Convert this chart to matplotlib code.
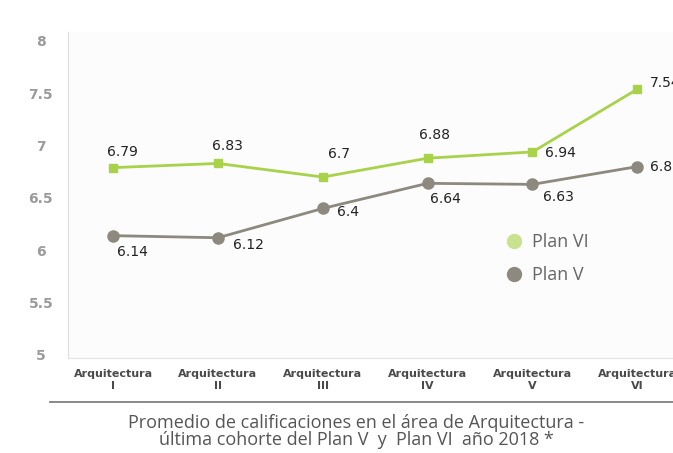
import matplotlib
matplotlib.use("Agg")
import matplotlib.pyplot as plt
from matplotlib.lines import Line2D

categorias = ["Arquitectura\nI", "Arquitectura\nII", "Arquitectura\nIII",
              "Arquitectura\nIV", "Arquitectura\nV", "Arquitectura\nVI"]
plan_vi = [6.79, 6.83, 6.7, 6.88, 6.94, 7.54]
plan_v = [6.14, 6.12, 6.4, 6.64, 6.63, 6.8]
y_ticks = [5, 5.5, 6, 6.5, 7, 7.5, 8]
y_tick_labels = ["5", "5.5", "6", "6.5", "7", "7.5", "8"]

verde = "#a8d24a"
gris = "#8d897e"

plt.rcParams['font.family'] = ['DejaVu Sans']

fig = plt.figure(figsize=(6.73, 4.53), dpi=100)
fig.patch.set_facecolor("white")
ax = fig.add_axes([0.101, 0.2097, 0.899, 0.7197])
ax.set_facecolor("#fcfcfc")

x = list(range(len(categorias)))
ax.plot(x, plan_vi, color=verde, lw=2, marker="s", ms=6, zorder=3)
ax.plot(x, plan_v, color=gris, lw=2, marker="o", ms=8, zorder=3)

# desplazamiento de etiquetas, en pixeles (centro del texto)
off_vi = [(9, 16), (10, 17), (16, 23), (7, 23), (28, -1), (28, 6)]
off_v = [(19, -16), (31, -7), (25, -4), (18, -16), (26, -13), (24, 0)]
for serie, offs in [(plan_vi, off_vi), (plan_v, off_v)]:
    for i, v in enumerate(serie):
        ax.annotate(f"{v:g}", (i, v), xytext=offs[i], textcoords="offset pixels",
                    ha="center", va="center", fontsize=10,
                    color="#222222", annotation_clip=False)

ax.set_xlim(-0.43, 5.34)
ax.set_ylim(4.971, 8.086)
ax.set_yticks(y_ticks)
ax.set_yticklabels(y_tick_labels, fontsize=10, fontweight="bold", color="#9b9b9b")
for lab in ax.get_yticklabels():
    lab.set_horizontalalignment("center")
ax.tick_params(axis="y", length=0, pad=19.5)
ax.set_xticks(x)
ax.set_xticklabels(categorias, fontsize=8, fontweight="bold", color="#4a4a4a",
                   linespacing=1.25)
ax.tick_params(axis="x", length=0, pad=8)

for s in ["top", "right"]:
    ax.spines[s].set_visible(False)
ax.spines["left"].set_color("#dddddd")
ax.spines["bottom"].set_color("#e4e4e4")

# leyenda
handles = [Line2D([], [], ls="none", marker="o", ms=10, color="#c8e28e"),
           Line2D([], [], ls="none", marker="o", ms=10, color=gris)]
fig.legend(handles, ["Plan VI", "Plan V"], loc="center left",
           bbox_to_anchor=(496 / 673, 1 - 258.5 / 453), frameon=False,
           prop={"family": "Open Sans", "size": 13}, labelcolor="#666666",
           handlelength=1, handletextpad=0.5, labelspacing=0.85, borderpad=0)

# linea separadora y titulo
fig.add_artist(Line2D([50 / 673, 1.0], [1 - 402 / 453, 1 - 402 / 453],
                      color="#808080", lw=1.3))
fig.text(356 / 673, 1 - 423 / 453, "Promedio de calificaciones en el área de Arquitectura -",
         ha="center", va="center", fontsize=13, color="#555555", family="Open Sans")
fig.text(356 / 673, 1 - 440 / 453, "última cohorte del Plan V  y  Plan VI  año 2018 *",
         ha="center", va="center", fontsize=13, color="#555555", family="Open Sans")

fig.savefig("out.png", dpi=100)
